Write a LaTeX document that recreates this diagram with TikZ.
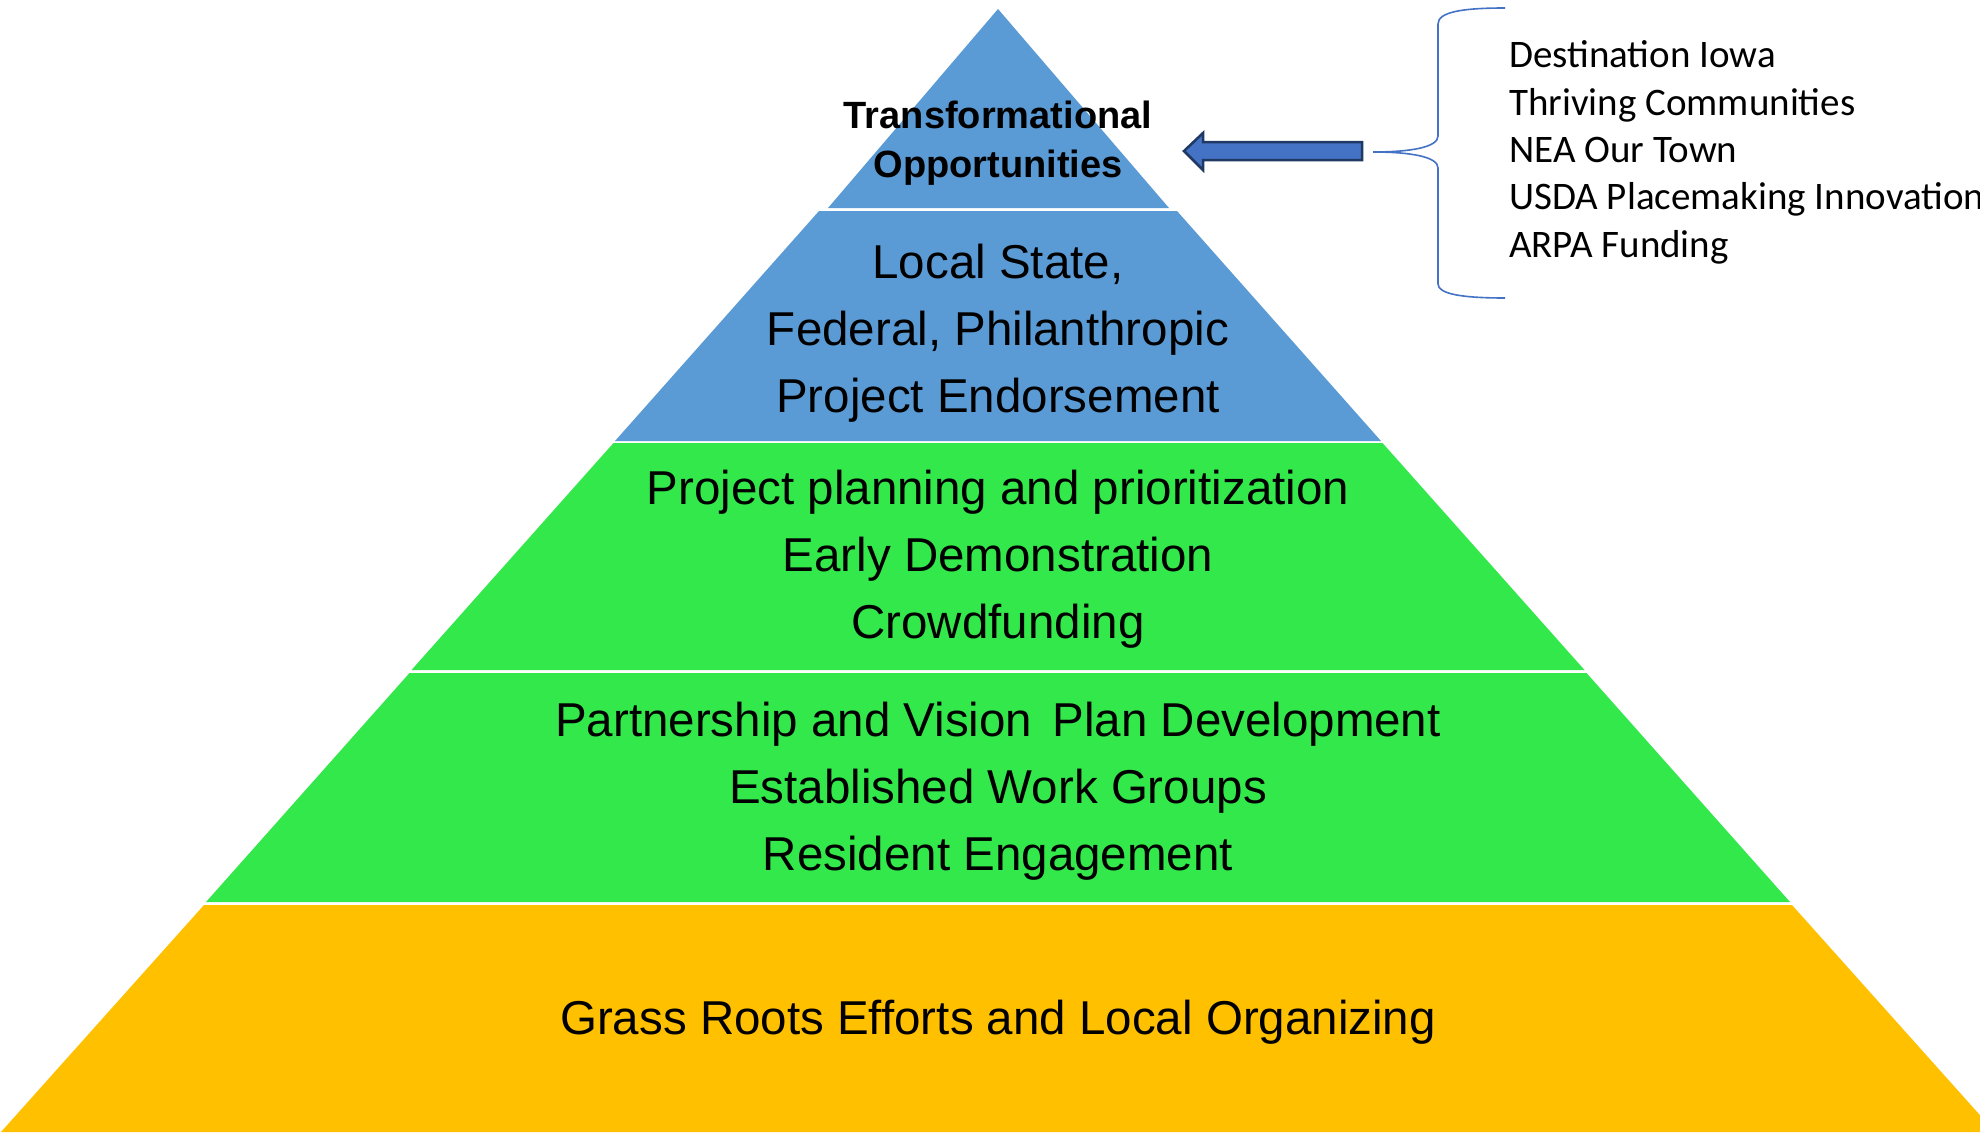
\documentclass[tikz,border=0pt]{standalone}
\usepackage{fontspec}
\setmainfont{Liberation Sans}
\newfontfamily\listfont{Carlito}

\definecolor{tierblue}{HTML}{5B9BD5}
\definecolor{tiergreen}{HTML}{33E84B}
\definecolor{tieryellow}{HTML}{FFC000}
\definecolor{arrowblue}{HTML}{4472C4}
\definecolor{arrowedge}{HTML}{203864}
\definecolor{bracecol}{HTML}{4472C4}

\begin{document}
\begin{tikzpicture}[x=1pt,y=-1pt,
  tierlabel/.style={anchor=base, inner sep=0pt, font=\fontsize{47.5}{57}\selectfont},
  toplabel/.style={anchor=base, inner sep=0pt, font=\fontsize{38}{46}\selectfont\bfseries},
  listitem/.style={anchor=base west, inner sep=0pt, font=\listfont\fontsize{39}{47}\selectfont},
  tier/.style={fill=#1, draw=none},
]
\useasboundingbox (0,0) rectangle (1980,1132);
\clip (0,0) rectangle (1980,1132);
\fill[white] (0,0) rectangle (1980,1132);

% pyramid tiers, separated by thin white gaps
\fill[tier=tierblue]   (998,9) -- (1169,208) -- (828,208) -- cycle;
\fill[tier=tierblue]   (819,211) -- (1177,211) -- (1381,441) -- (615,441) -- cycle;
\fill[tier=tiergreen]  (613.5,443) -- (1382.5,443) -- (1584.5,670) -- (411.5,670) -- cycle;
\fill[tier=tiergreen]  (409.5,673) -- (1586.5,673) -- (1790,902) -- (206,902) -- cycle;
\fill[tier=tieryellow] (204,905) -- (1792,905) -- (1995,1132) -- (1,1132) -- cycle;

% tier captions
\node[toplabel] (top1) at (998,128) {Transformational};
\node[toplabel] (top2) at (998,177) {Opportunities};

\node[tierlabel] (endA) at (998,278) {Local State,};
\node[tierlabel] (endB) at (998,345) {Federal, Philanthropic};
\node[tierlabel] (endC) at (998,412) {Project Endorsement};

\node[tierlabel] (plnA) at (998,504) {Project planning and prioritization};
\node[tierlabel] (plnB) at (998,571) {Early Demonstration};
\node[tierlabel] (plnC) at (998,638) {Crowdfunding};

\node[tierlabel] (ptnA) at (998,736) {Partnership and Vision\hspace{0.15em} Plan Development};
\node[tierlabel] (ptnB) at (998,803) {Established Work Groups};
\node[tierlabel] (ptnC) at (998,870) {Resident Engagement};

\node[tierlabel] (base) at (998,1034) {Grass Roots Efforts and Local Organizing};

% block arrow pointing at the apex tier
\coordinate (tip) at (1184,151);
\coordinate (tail) at (1362,151);
\fill[arrowblue, draw=arrowedge, line width=2.5pt, line join=miter]
  (tip) -- (1203,133) -- (1203,142) -- (1362,142) -- (1362,160)
  -- (1203,160) -- (1203,170) -- cycle;

% curly brace gathering the funding programmes
\coordinate (cusp) at (1373,152);
\draw[bracecol, line width=1.6pt]
  (1505,8) .. controls (1462,8) and (1438,12) .. (1438,24)
  -- (1438,136) .. controls (1438,147) and (1412,152) .. (cusp)
  .. controls (1412,152) and (1438,157) .. (1438,168)
  -- (1438,284) .. controls (1438,294) and (1462,298) .. (1505,298);

% list of programmes
\node[listitem] (li1) at (1509,67)  {Destination Iowa};
\node[listitem] (li2) at (1509,115) {Thriving Communities};
\node[listitem] (li3) at (1509,162) {NEA Our Town};
\node[listitem] (li4) at (1509,209) {USDA Placemaking Innovation};
\node[listitem] (li5) at (1509,257) {ARPA Funding};
\end{tikzpicture}
\end{document}
